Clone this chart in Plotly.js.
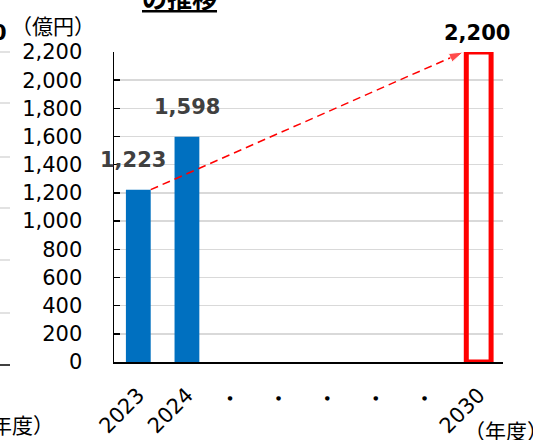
<!DOCTYPE html>
<html>
<head>
<meta charset="utf-8">
<script src="https://cdn.plot.ly/plotly-3.0.1.min.js"></script>
<style>html,body{margin:0;padding:0;background:#fff;}#chart{width:533px;height:440px;}</style>
</head>
<body>
<div id="chart"></div>
<script>
// ---- data ----
const years = [2023, 2024, 2025, 2026, 2027, 2028, 2029, 2030];
const tickLabels = ['2023', '2024', '・', '・', '・', '・', '・', '2030'];
const actualYears = [2023, 2024];
const actualValues = [1223, 1598];
const targetYears = [2030];
const targetValues = [2200];
const yTicks = [0, 200, 400, 600, 800, 1000, 1200, 1400, 1600, 1800, 2000, 2200];

// ---- layout constants ----
const L = 114, T = 52, W = 389, H = 310;
const px2x = px => (px - L) / W;
const py2y = py => (T + H - py) / H;
const FONT = 'DejaVu Sans, Noto Sans CJK JP, sans-serif';
const JFONT = 'Noto Sans CJK JP, DejaVu Sans, sans-serif';
const barW = 0.51;
const fmt = v => v.toLocaleString('en-US');

const traces = [
  {
    type: 'bar', x: actualYears, y: actualValues, width: barW,
    marker: {color: '#0070C0'}, hoverinfo: 'skip', cliponaxis: false
  },
  {
    type: 'bar', x: targetYears, y: targetValues, width: barW,
    marker: {color: 'rgba(255,255,255,0)', line: {color: '#FF0000', width: 5}},
    hoverinfo: 'skip', cliponaxis: false
  },
  {
    type: 'scatter', mode: 'lines+markers',
    x: [actualYears[0] + barW / 2, targetYears[0] - barW / 2 - 0.06],
    y: [actualValues[0], targetValues[0]],
    line: {color: '#FF0000', width: 1.5, dash: '8px,5px'},
    marker: {symbol: ['circle', 'arrow'], size: [0, 15], angleref: 'previous', color: '#FF0000'},
    hoverinfo: 'skip', cliponaxis: false
  }
];

const annotations = [];
actualYears.forEach((yr, i) => {
  annotations.push({
    x: yr, y: actualValues[i], xref: 'x', yref: 'y', text: '<b>' + fmt(actualValues[i]) + '</b>',
    showarrow: false, yanchor: 'middle', yshift: 30, xshift: i === 0 ? -5 : 0,
    font: {family: FONT, size: 21, color: '#404040'}
  });
});
targetYears.forEach((yr, i) => {
  annotations.push({
    x: yr, y: targetValues[i], xref: 'x', yref: 'y', text: '<b>' + fmt(targetValues[i]) + '</b>',
    showarrow: false, yanchor: 'middle', yshift: 19, xshift: -2,
    font: {family: FONT, size: 21, color: '#000000'}
  });
});
// unit labels
annotations.push({xref: 'paper', yref: 'paper', x: px2x(53), y: py2y(25), xanchor: 'center', yanchor: 'middle',
  text: '（億円）', showarrow: false, font: {family: JFONT, size: 21, color: '#000'}});
annotations.push({xref: 'paper', yref: 'paper', x: px2x(462), y: py2y(430), xanchor: 'left', yanchor: 'middle',
  text: '（年度）', showarrow: false, font: {family: JFONT, size: 21, color: '#000'}});
// cropped neighbour content
annotations.push({xref: 'paper', yref: 'paper', x: px2x(56), y: py2y(424), xanchor: 'right', yanchor: 'middle',
  text: '年度）', showarrow: false, font: {family: JFONT, size: 21, color: '#000'}});
annotations.push({xref: 'paper', yref: 'paper', x: px2x(9), y: py2y(33), xanchor: 'right', yanchor: 'middle',
  text: '<b>0</b>', showarrow: false, font: {family: FONT, size: 21, color: '#000'}});
annotations.push({xref: 'paper', yref: 'paper', x: px2x(140), y: py2y(17), xanchor: 'left', yanchor: 'bottom',
  text: '<b><u>の推移</u></b>', showarrow: false, font: {family: JFONT, size: 25, color: '#000'}});

const shapes = [];
[52, 103, 157, 208, 260, 313].forEach(py => {
  shapes.push({type: 'line', xref: 'paper', yref: 'paper', x0: px2x(0), x1: px2x(10), y0: py2y(py), y1: py2y(py),
    line: {color: '#d9d9d9', width: 1.5}});
});
shapes.push({type: 'line', xref: 'paper', yref: 'paper', x0: px2x(0), x1: px2x(10), y0: py2y(365), y1: py2y(365),
  line: {color: '#000', width: 1.5}});

const layout = {
  width: 533, height: 440,
  margin: {l: L, r: 533 - L - W, t: T, b: 440 - T - H, pad: 0},
  paper_bgcolor: '#fff', plot_bgcolor: '#fff',
  showlegend: false,
  barmode: 'overlay',
  font: {family: FONT, color: '#000'},
  xaxis: {
    type: 'linear', range: [2022.5, 2030.5], tickvals: years, ticktext: tickLabels,
    tickangle: -45, ticks: '', showgrid: false, zeroline: false,
    showline: true, linecolor: '#000', linewidth: 1.5,
    tickfont: {family: FONT, size: 21, color: '#000'}, ticklabelstandoff: 11
  },
  yaxis: {
    range: [0, 2200], tickvals: yTicks, tickformat: ',d',
    showgrid: true, gridcolor: '#d9d9d9', gridwidth: 1.5, zeroline: false,
    showline: true, linecolor: '#000', linewidth: 1.5,
    ticks: 'inside', ticklen: 6, tickwidth: 1.5, tickcolor: '#000',
    tickfont: {family: FONT, size: 21, color: '#000'}, ticklabelstandoff: 26
  },
  annotations: annotations,
  shapes: shapes
};

Plotly.newPlot('chart', traces, layout, {staticPlot: true, displayModeBar: false});
</script>
</body>
</html>
